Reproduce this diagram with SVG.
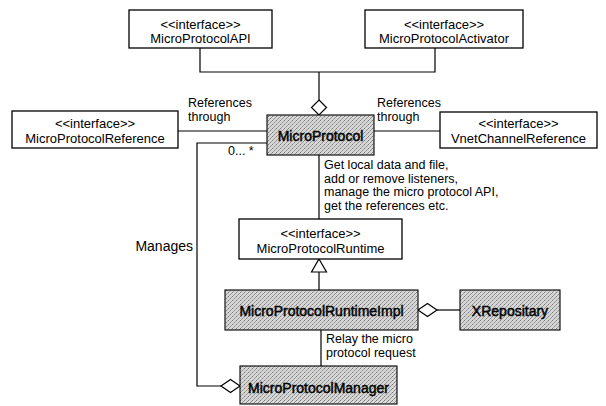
<svg xmlns="http://www.w3.org/2000/svg" width="606" height="406" viewBox="0 0 606 406">
<defs>
<pattern id="ht" width="4" height="4" patternUnits="userSpaceOnUse">
<rect width="4" height="4" fill="#d6d6d6"/>
<rect x="0" y="0" width="1" height="1" fill="#7a7a7a"/>
<rect x="2" y="2" width="1" height="1" fill="#8c8c8c"/>
<rect x="1" y="3" width="1" height="1" fill="#a4a4a4"/>
<rect x="3" y="1" width="1" height="1" fill="#9a9a9a"/>
</pattern>
</defs>
<style>
text{font-family:"Liberation Sans",Arial,sans-serif;font-size:14px;fill:#000}
.i{font-size:13px}
.s{font-size:12.5px}
.c{text-anchor:middle}
.b{stroke:#000;stroke-width:0.45}
.w{fill:#fff;stroke:#000;stroke-width:1.3}
.g{fill:url(#ht);stroke:#000;stroke-width:1.1}
.ln{fill:none;stroke:#000;stroke-width:1.2}
.dm{fill:#fff;stroke:#000;stroke-width:1.2}
</style>
<rect width="606" height="406" fill="#fff"/>
<g id="connectors">
<polyline class="ln" points="200,48 200,72 435,72 435,48"/>
<line class="ln" x1="319" y1="72" x2="319" y2="100"/>
<polygon class="dm" points="319,100 326.5,107.5 319,115 311.5,107.5"/>
<line class="ln" x1="178" y1="131" x2="267" y2="131"/>
<line class="ln" x1="374" y1="131" x2="440" y2="131"/>
<polyline class="ln" points="267,143 197,143 197,386 221,386"/>
<polygon class="dm" points="221,386 230.5,379.5 240,386 230.5,392.5"/>
<line class="ln" x1="319" y1="155" x2="319" y2="219"/>
<polygon class="dm" points="319,259 326.5,272 311.5,272"/>
<line class="ln" x1="319" y1="272" x2="319" y2="290"/>
<polygon class="dm" points="418,310 427.5,303.5 437,310 427.5,316.5"/>
<line class="ln" x1="437" y1="310" x2="460" y2="310"/>
<line class="ln" x1="321" y1="330" x2="321" y2="366"/>
<text class="s" x="188" y="107">References</text>
<text class="s" x="188" y="121">through</text>
<text class="s" x="377" y="107">References</text>
<text class="s" x="377" y="121">through</text>
<text class="s" x="228" y="155">0... *</text>
<text x="193" y="251" text-anchor="end">Manages</text>
<text class="s" x="324" y="169">Get local data and file,</text>
<text class="s" x="324" y="182.5">add or remove listeners,</text>
<text class="s" x="324" y="196">manage the micro protocol API,</text>
<text class="s" x="324" y="209.5">get the references etc.</text>
<text class="s" x="326" y="343">Relay the micro</text>
<text class="s" x="326" y="357">protocol request</text>
</g>
<g id="MicroProtocolAPI">
<rect class="w" x="129" y="10" width="143" height="38"/>
<text class="c i" x="200.5" y="28.5">&lt;&lt;interface&gt;&gt;</text>
<text class="c i" x="200.5" y="43">MicroProtocolAPI</text>
</g>
<g id="MicroProtocolActivator">
<rect class="w" x="365" y="10" width="158" height="38"/>
<text class="c i" x="444" y="28.5">&lt;&lt;interface&gt;&gt;</text>
<text class="c i" x="444" y="43">MicroProtocolActivator</text>
</g>
<g id="MicroProtocolReference">
<rect class="w" x="12" y="111" width="166" height="37"/>
<text class="c i" x="95" y="128">&lt;&lt;interface&gt;&gt;</text>
<text class="c i" x="95" y="142.5">MicroProtocolReference</text>
</g>
<g id="VnetChannelReference">
<rect class="w" x="440" y="112" width="157" height="36"/>
<text class="c i" x="518.5" y="128">&lt;&lt;interface&gt;&gt;</text>
<text class="c i" x="518.5" y="142.5">VnetChannelReference</text>
</g>
<g id="MicroProtocol">
<rect class="g" x="267" y="115" width="107" height="40"/>
<text class="c b" x="320.5" y="141">MicroProtocol</text>
</g>
<g id="MicroProtocolRuntime">
<rect class="w" x="239" y="219" width="163" height="40"/>
<text class="c i" x="320.5" y="238">&lt;&lt;interface&gt;&gt;</text>
<text class="c i" x="320.5" y="253">MicroProtocolRuntime</text>
</g>
<g id="MicroProtocolRuntimeImpl">
<rect class="g" x="225" y="290" width="193" height="40"/>
<text class="c b" x="321.5" y="315.5">MicroProtocolRuntimeImpl</text>
</g>
<g id="XRepositary">
<rect class="g" x="460" y="290" width="100" height="40"/>
<text class="c b" x="510" y="315.5">XRepositary</text>
</g>
<g id="MicroProtocolManager">
<rect class="g" x="240" y="366" width="157" height="38"/>
<text class="c b" x="318.5" y="393">MicroProtocolManager</text>
</g>
</svg>
